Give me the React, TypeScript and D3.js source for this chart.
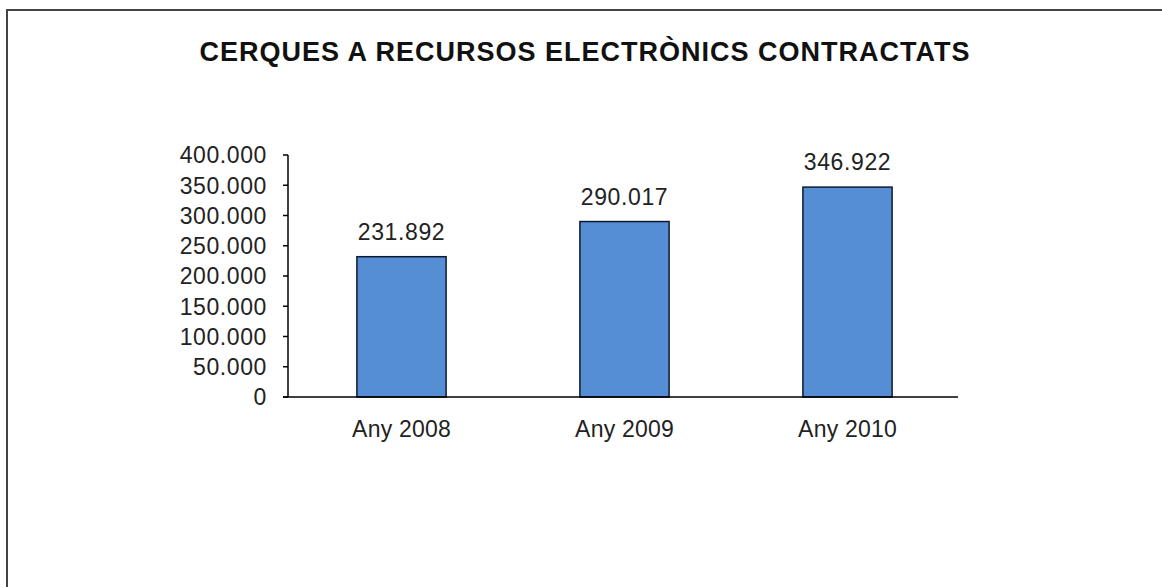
import React from "react";
import * as d3 from "d3";

const categories = ["Any 2008", "Any 2009", "Any 2010"];
const values = [231892, 290017, 346922];
const yTicks = [0, 50000, 100000, 150000, 200000, 250000, 300000, 350000, 400000];
const title = "CERQUES A RECURSOS ELECTRÒNICS CONTRACTATS";

const W = 1162;
const H = 587;

const fmt = (v: number) =>
  v === 0 ? "0" : d3.format(",")(v).replace(/,/g, ".");

export default function App() {
  const x = d3
    .scaleBand<string>()
    .domain(categories)
    .range([290, 959])
    .paddingInner(0.6)
    .paddingOuter(0.3);
  const y = d3.scaleLinear().domain([0, 400000]).range([397, 155]);
  const font = "Arial, 'Liberation Sans', sans-serif";

  return (
    <svg
      width={W}
      height={H}
      style={{ position: "absolute", left: 0, top: 0, background: "#fff" }}
    >
      <rect x={7} y={10} width={W + 20} height={H + 20} fill="#fff" stroke="#444" strokeWidth={2} />
      <text
        x={585}
        y={61}
        textAnchor="middle"
        fontFamily={font}
        fontWeight="bold"
        fontSize={27}
        letterSpacing={1}
        fill="#111"
      >
        {title}
      </text>
      {/* y axis */}
      <line x1={288} x2={288} y1={y(400000)} y2={y(0)} stroke="#000" strokeWidth={1.5} />
      {yTicks.map((t) => (
        <g key={t}>
          <line x1={283} x2={288} y1={y(t)} y2={y(t)} stroke="#000" strokeWidth={1.5} />
          <text
            x={267}
            y={y(t)}
            dy="0.36em"
            textAnchor="end"
            fontFamily={font}
            fontSize={23}
            letterSpacing={0.6}
            fill="#222"
          >
            {fmt(t)}
          </text>
        </g>
      ))}
      {/* bars */}
      {categories.map((c, i) => (
        <g key={c}>
          <rect
            x={x(c)!}
            y={y(values[i])}
            width={x.bandwidth()}
            height={y(0) - y(values[i])}
            fill="#558ED5"
            stroke="#0d1a2e"
            strokeWidth={1.5}
          />
          <text
            x={x(c)! + x.bandwidth() / 2}
            y={y(values[i]) - 17}
            textAnchor="middle"
            fontFamily={font}
            fontSize={23}
            letterSpacing={0.6}
            fill="#222"
          >
            {fmt(values[i])}
          </text>
          <text
            x={x(c)! + x.bandwidth() / 2}
            y={437}
            textAnchor="middle"
            fontFamily={font}
            fontSize={23}
            letterSpacing={0.2}
            fill="#222"
          >
            {c}
          </text>
        </g>
      ))}
      {/* x axis */}
      <line x1={283} x2={958} y1={y(0)} y2={y(0)} stroke="#000" strokeWidth={1.5} />
    </svg>
  );
}
